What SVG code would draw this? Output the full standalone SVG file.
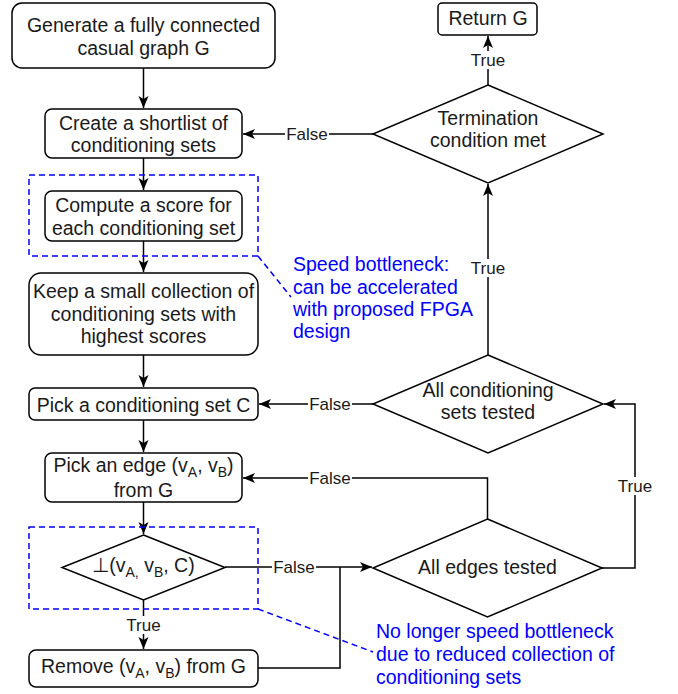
<svg xmlns="http://www.w3.org/2000/svg" width="678" height="694" viewBox="0 0 678 694">
<defs>
<style>
.box{fill:#fff;stroke:#000;stroke-width:1.5}
.t{font-family:"Liberation Sans",Arial,sans-serif;font-size:19.5px;fill:#1a1a1a;text-anchor:middle}
.lbl{font-family:"Liberation Sans",Arial,sans-serif;font-size:17px;fill:#1a1a1a;text-anchor:middle}
.note{font-family:"Liberation Sans",Arial,sans-serif;font-size:19.5px;fill:#0000ff}
.c{fill:none;stroke:#000;stroke-width:1.5}
.dash{fill:none;stroke:#0000ff;stroke-width:1.5;stroke-dasharray:6 4}
.bg{fill:#fff}
</style>
<marker id="arr" markerUnits="userSpaceOnUse" markerWidth="14" markerHeight="12" refX="12" refY="5" orient="auto">
<path d="M0,0 L12,5 L0,10 L3,5 z" fill="#000"/>
</marker>
</defs>

<g id="connectors">
<line class="c" x1="143.5" y1="68" x2="143.5" y2="108" stroke-width="2.5" marker-end="url(#arr)"/>
<line class="c" x1="143.5" y1="158" x2="143.5" y2="190" marker-end="url(#arr)"/>
<line class="c" x1="143.5" y1="241" x2="143.5" y2="272" marker-end="url(#arr)"/>
<line class="c" x1="143.5" y1="355" x2="143.5" y2="387" marker-end="url(#arr)"/>
<line class="c" x1="143.5" y1="420" x2="143.5" y2="452" marker-end="url(#arr)"/>
<line class="c" x1="143.5" y1="502" x2="143.5" y2="534" marker-end="url(#arr)"/>
<line class="c" x1="143.5" y1="600" x2="143.5" y2="649" marker-end="url(#arr)"/>
<line class="c" x1="225" y1="567" x2="372" y2="567" marker-end="url(#arr)"/>
<polyline class="c" points="258,668 340,668 340,567"/>
<polyline class="c" points="487.5,519 487.5,478 243,478" marker-end="url(#arr)"/>
<polyline class="c" points="602,568 635,568 635,404 604,404" marker-end="url(#arr)"/>
<line class="c" x1="373" y1="404" x2="259" y2="404" marker-end="url(#arr)"/>
<line class="c" x1="488" y1="355" x2="488" y2="184" marker-end="url(#arr)"/>
<line class="c" x1="373" y1="134" x2="243" y2="134" marker-end="url(#arr)"/>
<line class="c" x1="488" y1="85" x2="488" y2="36" marker-end="url(#arr)"/>
<g id="edge-labels">
<rect class="bg" x="126" y="616" width="36" height="18"/>
<text class="lbl" x="143.5" y="631">True</text>
<rect class="bg" x="272" y="558" width="44" height="18"/>
<text class="lbl" x="294" y="573">False</text>
<rect class="bg" x="308" y="469" width="44" height="18"/>
<text class="lbl" x="330" y="484">False</text>
<rect class="bg" x="617" y="477" width="36" height="18"/>
<text class="lbl" x="635" y="492">True</text>
<rect class="bg" x="308" y="395" width="44" height="18"/>
<text class="lbl" x="330" y="410">False</text>
<rect class="bg" x="470" y="259" width="36" height="18"/>
<text class="lbl" x="488" y="274">True</text>
<rect class="bg" x="285" y="125" width="44" height="18"/>
<text class="lbl" x="307" y="140">False</text>
<rect class="bg" x="470" y="51" width="36" height="18"/>
<text class="lbl" x="488" y="66">True</text>
</g>
</g>

<g id="annotations">
<rect class="dash" x="29" y="175" width="229" height="81"/>
<rect class="dash" x="29" y="527" width="229" height="82"/>
<line class="dash" x1="258" y1="256" x2="291" y2="297"/>
<line class="dash" x1="258" y1="609" x2="373" y2="652"/>
<text class="note" x="293" y="271">Speed bottleneck:</text>
<text class="note" x="293" y="293.5">can be accelerated</text>
<text class="note" x="293" y="316">with proposed FPGA</text>
<text class="note" x="293" y="338">design</text>
<text class="note" x="376" y="638">No longer speed bottleneck</text>
<text class="note" x="376" y="661">due to reduced collection of</text>
<text class="note" x="376" y="684">conditioning sets</text>
</g>

<g id="generate">
<rect class="box" x="12" y="3" width="263" height="65" rx="10"/>
<text class="t" x="143.5" y="32">Generate a fully connected</text>
<text class="t" x="143.5" y="55">casual graph G</text>
</g>
<g id="shortlist">
<rect class="box" x="45" y="109" width="197" height="49" rx="7"/>
<text class="t" x="143.5" y="130">Create a shortlist of</text>
<text class="t" x="143.5" y="152">conditioning sets</text>
</g>
<g id="compute">
<rect class="box" x="45" y="191" width="197" height="50" rx="7"/>
<text class="t" x="143.5" y="212">Compute a score for</text>
<text class="t" x="143.5" y="235">each conditioning set</text>
</g>
<g id="keep">
<rect class="box" x="29" y="273" width="229" height="82" rx="12"/>
<text class="t" x="143.5" y="298">Keep a small collection of</text>
<text class="t" x="143.5" y="321">conditioning sets with</text>
<text class="t" x="143.5" y="343">highest scores</text>
</g>
<g id="pick-set">
<rect class="box" x="29" y="388" width="229" height="32" rx="6"/>
<text class="t" x="143.5" y="412">Pick a conditioning set C</text>
</g>
<g id="pick-edge">
<rect class="box" x="45" y="453" width="197" height="49" rx="7"/>
<text class="t" x="143.5" y="472">Pick an edge (v<tspan font-size="14" dy="5">A</tspan><tspan dy="-5">, v</tspan><tspan font-size="14" dy="5">B</tspan><tspan dy="-5">)</tspan></text>
<text class="t" x="143.5" y="497">from G</text>
</g>
<g id="independence">
<polygon class="box" points="143.5,535 225,567.5 143.5,600 62,567.5"/>
<text class="t" x="143.5" y="572">⊥(v<tspan font-size="14" dy="5">A,</tspan><tspan dy="-5"> v</tspan><tspan font-size="14" dy="5">B</tspan><tspan dy="-5">, C)</tspan></text>
</g>
<g id="remove">
<rect class="box" x="29" y="650" width="229" height="37" rx="7"/>
<text class="t" x="143.5" y="673">Remove (v<tspan font-size="14" dy="5">A</tspan><tspan dy="-5">, v</tspan><tspan font-size="14" dy="5">B</tspan><tspan dy="-5">) from G</tspan></text>
</g>
<g id="edges-tested">
<polygon class="box" points="487.5,519 602,568 487.5,617 373,568"/>
<text class="t" x="487.5" y="574">All edges tested</text>
</g>
<g id="sets-tested">
<polygon class="box" points="488,355 603,404 488,453 373,404"/>
<text class="t" x="488" y="397">All conditioning</text>
<text class="t" x="488" y="419">sets tested</text>
</g>
<g id="termination">
<polygon class="box" points="488,85 603,134 488,183 373,134"/>
<text class="t" x="488" y="125">Termination</text>
<text class="t" x="488" y="147">condition met</text>
</g>
<g id="return">
<rect class="box" x="438" y="3" width="99" height="32" rx="4"/>
<text class="t" x="488" y="25">Return G</text>
</g>
</svg>
